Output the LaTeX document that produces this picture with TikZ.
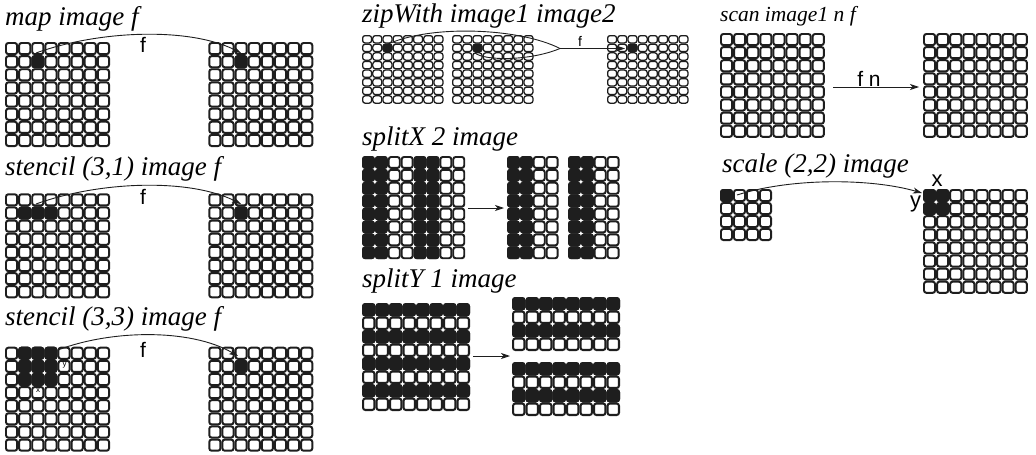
\documentclass[tikz,border=0pt]{standalone}
\usepackage{fontspec}
\setmainfont{Liberation Serif}
\setsansfont{Liberation Sans}
\usetikzlibrary{arrows.meta}

\definecolor{ink}{HTML}{1E1E1E}

\tikzset{
  cellbox/.style={draw=ink, fill=white, rounded corners=2.4pt},
  inkcell/.style={cellbox, fill=ink},
  title/.style={anchor=base west, inner sep=0pt, font=\fontsize{27}{29}\selectfont\itshape},
  smalltitle/.style={title, font=\fontsize{21.5}{23}\selectfont\itshape},
  fnlabel/.style={inner sep=0pt, font=\sffamily\fontsize{21}{22}\selectfont},
  axislabel/.style={inner sep=0pt, font=\sffamily\fontsize{22}{23}\selectfont},
  tinylabel/.style={inner sep=0pt, font=\sffamily\fontsize{8}{9}\selectfont},
  flow/.style={draw=ink, line width=0.9pt, -{Stealth[length=9pt,width=6pt,inset=2.5pt]}},
  plainflow/.style={draw=ink, line width=0.9pt},
}

% \cellgrid{x0}{y0}{columns}{rows}{x pitch}{y pitch}: a block of empty pixels
\newcommand{\cellgrid}[6]{%
  \pgfmathsetmacro{\cellw}{0.15*min(#5,#6)}%
  \foreach \cx in {1,...,#3}{%
    \foreach \cy in {1,...,#4}{%
      \draw[cellbox, line width=\cellw pt]
        ({#1+(\cx-1)*#5+\cellw/2},{#2+(\cy-1)*#6+\cellw/2})
        rectangle ++({#5-\cellw},{#6-\cellw});
    }%
  }%
}
% \cellink{x0}{y0}{x pitch}{y pitch}{col/row list}: dark pixels on top of a grid
\newcommand{\cellink}[5]{%
  \pgfmathsetmacro{\cellw}{0.15*min(#3,#4)}%
  \foreach \cx/\cy in {#5}{%
    \draw[inkcell, line width=\cellw pt]
      ({#1+\cx*#3+\cellw/2},{#2+\cy*#4+\cellw/2})
      rectangle ++({#3-\cellw},{#4-\cellw});
  }%
}

\begin{document}
\begin{tikzpicture}[x=1pt, y=-1pt]
\useasboundingbox (0,0) rectangle (1036,455);

% ---------------- map ----------------
\node[title] (tmap) at (5,25) {map image f};
\cellgrid{5}{42}{8}{8}{13.125}{13.125}
\cellink{5}{42}{13.125}{13.125}{2/1}
\cellgrid{208.3}{42}{8}{8}{13.125}{13.125}
\cellink{208.3}{42}{13.125}{13.125}{2/1}
\coordinate (mapsrc) at (36,53);
\coordinate (mapdst) at (241,53);
\draw[flow] (mapsrc) .. controls (100,30) and (190,27) .. (mapdst);
\node[fnlabel] (mapf) at (143,45) {f};

% ---------------- stencil (3,1) ----------------
\node[title] (tsten) at (5,175) {stencil (3,1) image f};
\cellgrid{5}{193.3}{8}{8}{13.125}{13.125}
\cellink{5}{193.3}{13.125}{13.125}{1/1,2/1,3/1}
\cellgrid{208.3}{193.3}{8}{8}{13.125}{13.125}
\cellink{208.3}{193.3}{13.125}{13.125}{2/1}
\coordinate (stasrc) at (36,204);
\coordinate (stadst) at (241,204);
\draw[flow] (stasrc) .. controls (100,181) and (190,178) .. (stadst);
\node[fnlabel] (staf) at (143,197) {f};

% ---------------- stencil (3,3) ----------------
\node[title] (tstenb) at (5,325) {stencil (3,3) image f};
\cellgrid{5}{346.7}{8}{8}{13.125}{13.125}
\cellink{5}{346.7}{13.125}{13.125}{1/0,2/0,3/0,1/1,2/1,3/1,1/2,2/2,3/2}
\cellgrid{208.3}{346.7}{8}{8}{13.125}{13.125}
\cellink{208.3}{346.7}{13.125}{13.125}{2/1}
\node[tinylabel] (stby) at (64.5,365) {y};
\node[tinylabel] (stbx) at (38,390.5) {x};
\coordinate (stbsrc) at (58,350);
\coordinate (stbdst) at (238,356);
\draw[flow] (stbsrc) .. controls (110,330) and (190,328) .. (stbdst);
\node[fnlabel] (stbf) at (143,350) {f};

% ---------------- zipWith ----------------
\node[title] (tzip) at (362,23) {zipWith image1 image2};
\cellgrid{362}{35}{8}{8}{10.2}{8.6}
\cellink{362}{35}{10.2}{8.6}{2/1}
\cellgrid{452}{35}{8}{8}{10.2}{8.6}
\cellink{452}{35}{10.2}{8.6}{2/1}
\cellgrid{607}{35}{8}{8}{10.2}{8.6}
\cellink{607}{35}{10.2}{8.6}{2/1}
\coordinate (zipa) at (386,45);
\coordinate (zipb) at (475,53);
\coordinate (zipm) at (560,48.5);
\coordinate (zipdst) at (625,48.5);
\draw[plainflow] (zipa) .. controls (430,24) and (520,28) .. (zipm);
\draw[plainflow] (zipb) .. controls (485,61) and (530,61) .. (zipm);
\draw[flow] (zipm) -- (zipdst);
\node[fnlabel, font=\sffamily\fontsize{14}{15}\selectfont] (zipf) at (580,41) {f};

% ---------------- splitX ----------------
\node[title] (tsplx) at (362,145) {splitX 2 image};
\cellgrid{362}{156}{8}{8}{12.9}{12.9}
\cellink{362}{156}{12.9}{12.9}{0/0,0/1,0/2,0/3,0/4,0/5,0/6,0/7,
  1/0,1/1,1/2,1/3,1/4,1/5,1/6,1/7,
  4/0,4/1,4/2,4/3,4/4,4/5,4/6,4/7,
  5/0,5/1,5/2,5/3,5/4,5/5,5/6,5/7}
\cellgrid{507}{156}{4}{8}{12.9}{12.9}
\cellink{507}{156}{12.9}{12.9}{0/0,0/1,0/2,0/3,0/4,0/5,0/6,0/7,
  1/0,1/1,1/2,1/3,1/4,1/5,1/6,1/7}
\cellgrid{568}{156}{4}{8}{12.9}{12.9}
\cellink{568}{156}{12.9}{12.9}{0/0,0/1,0/2,0/3,0/4,0/5,0/6,0/7,
  1/0,1/1,1/2,1/3,1/4,1/5,1/6,1/7}
\coordinate (splxsrc) at (468,208);
\coordinate (splxdst) at (504,208);
\draw[flow] (splxsrc) -- (splxdst);

% ---------------- splitY ----------------
\node[title] (tsply) at (362,287) {splitY 1 image};
\cellgrid{362}{303}{8}{8}{13.5}{13.5}
\cellink{362}{303}{13.5}{13.5}{0/0,1/0,2/0,3/0,4/0,5/0,6/0,7/0,
  0/2,1/2,2/2,3/2,4/2,5/2,6/2,7/2,
  0/4,1/4,2/4,3/4,4/4,5/4,6/4,7/4,
  0/6,1/6,2/6,3/6,4/6,5/6,6/6,7/6}
\cellgrid{512}{297}{8}{4}{13.5}{13.5}
\cellink{512}{297}{13.5}{13.5}{0/0,1/0,2/0,3/0,4/0,5/0,6/0,7/0,
  0/2,1/2,2/2,3/2,4/2,5/2,6/2,7/2}
\cellgrid{512}{362}{8}{4}{13.5}{13.5}
\cellink{512}{362}{13.5}{13.5}{0/0,1/0,2/0,3/0,4/0,5/0,6/0,7/0,
  0/2,1/2,2/2,3/2,4/2,5/2,6/2,7/2}
\coordinate (splysrc) at (473,356);
\coordinate (splydst) at (510,356);
\draw[flow] (splysrc) -- (splydst);

% ---------------- scan ----------------
\node[smalltitle] (tscan) at (720,21) {scan image1 n f};
\cellgrid{720}{33}{8}{8}{13.1}{13.1}
\cellgrid{923}{33}{8}{8}{13.1}{13.1}
\coordinate (scansrc) at (833,87);
\coordinate (scandst) at (919,87);
\draw[flow] (scansrc) -- (scandst);
\node[fnlabel] (scanf) at (869,78.5) {f n};

% ---------------- scale ----------------
\node[title] (tscale) at (722,172) {scale (2,2) image};
\cellgrid{720}{189}{4}{4}{13}{13}
\cellink{720}{189}{13}{13}{0/0}
\cellgrid{923}{189}{8}{8}{13.1}{13.1}
\cellink{923}{189}{13.1}{13.1}{0/0,1/0,0/1,1/1}
\node[axislabel] (scalex) at (937,180.5) {x};
\node[axislabel] (scaley) at (915.5,204) {y};
\coordinate (scalesrc) at (737,195);
\coordinate (scaledst) at (922,193);
\draw[flow] (scalesrc) .. controls (790,178) and (870,178) .. (scaledst);
\end{tikzpicture}
\end{document}
